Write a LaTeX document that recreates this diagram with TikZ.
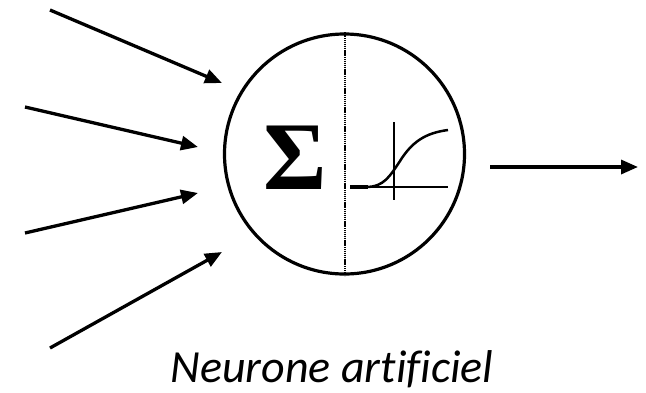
\documentclass[tikz,border=0pt]{standalone}
\usepackage{fontspec}
\setmainfont{Carlito}
\newfontfamily\sigmafont{Liberation Serif}
\usetikzlibrary{arrows.meta}
\begin{document}
\begin{tikzpicture}[x=1pt,y=-1pt,
  arr/.style={line width=3.3pt, -{Triangle[length=17pt,width=14pt]}},
  neuronstyle/.style={circle, draw, line width=3.2pt, minimum size=240pt, inner sep=0pt}]
\useasboundingbox (0,0) rectangle (646,392);
\node[neuronstyle] (neuron) at (344.5,154) {};
\draw[line width=2pt, dash pattern=on 1.2pt off 0.7pt] (neuron.north) -- (neuron.south);
\node[inner sep=0pt] (sigma) at (295,157.5) {\fontsize{97}{97}\selectfont\sigmafont\bfseries Σ};
% sigmoid
\coordinate (ax0) at (350,187);
\coordinate (ax1) at (448,187);
\coordinate (ay0) at (394,122);
\coordinate (ay1) at (394,200);
\draw[line width=2.5pt] (ax0) -- (ax1);
\draw[line width=2.5pt] (ay0) -- (ay1);
\draw[line width=3.8pt] (ax0) -- (368,187);
\draw[line width=2.5pt] (366,187) .. controls (384,187) and (390,176) .. (400,161)
  .. controls (412,142) and (425,133) .. (448,130);
% inputs
\coordinate (i1) at (50,10);   \coordinate (e1) at (222,83);
\coordinate (i2) at (25,107);  \coordinate (e2) at (198,147);
\coordinate (i3) at (25,233);  \coordinate (e3) at (198,193);
\coordinate (i4) at (50,348);  \coordinate (e4) at (222,252);
\draw[arr] (i1) -- (e1);
\draw[arr] (i2) -- (e2);
\draw[arr] (i3) -- (e3);
\draw[arr] (i4) -- (e4);
% output
\coordinate (o0) at (490,167); \coordinate (o1) at (638,167);
\draw[arr] (o0) -- (o1);
\node[anchor=base, inner sep=0pt] (caption) at (332,382) {\fontsize{46}{46}\selectfont\itshape\addfontfeatures{Ligatures=NoCommon}Neurone artificiel};
\end{tikzpicture}
\end{document}
